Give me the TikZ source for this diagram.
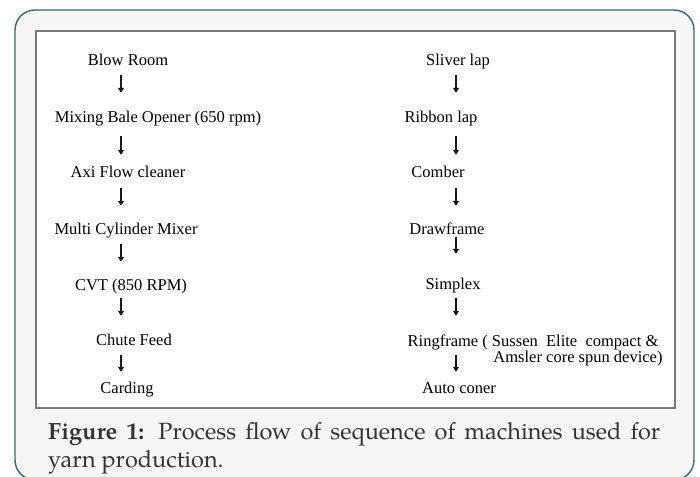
\documentclass[tikz,border=0pt]{standalone}
\usepackage{fontspec}
\setmainfont{Liberation Serif}
\newfontfamily\capfont{texgyrepagella}[Extension=.otf, UprightFont=*-regular, BoldFont=*-bold]
\usetikzlibrary{arrows.meta}
\definecolor{frameteal}{HTML}{2F6B84}
\definecolor{panelbg}{HTML}{F6F6F4}
\definecolor{innerline}{HTML}{7A7A7A}
\definecolor{captext}{HTML}{333333}
\tikzset{
  stepnode/.style={anchor=base, inner sep=0pt, text height=11pt, text depth=3.5pt,
    font=\fontsize{16.5}{19}\selectfont, text=black},
  flowarr/.style={-{Triangle[width=6pt,length=5pt]}, line width=1.3pt, black!90},
  capline/.style={anchor=base west, inner sep=0pt, text=captext,
    font=\capfont\fontsize{23.5}{28}\selectfont}
}
\begin{document}
\begin{tikzpicture}[x=1pt,y=-1pt]
\useasboundingbox (0,0) rectangle (700,476);
\clip (0,0) rectangle (700,476);
\fill[white] (0,0) rectangle (700,476);
\draw[frameteal, line width=1.4pt, fill=panelbg, rounded corners=20pt] (15,10) rectangle (694,480);
\draw[innerline, line width=1.4pt, fill=white] (36,31) rectangle (675,408);
% left column
\node[stepnode] (blow) at (128,66) {Blow Room};
\node[stepnode] (mix) at (158,122) {Mixing Bale Opener (650 rpm)};
\node[stepnode] (axi) at (128,177) {Axi Flow cleaner};
\node[stepnode] (multi) at (126,234) {Multi Cylinder Mixer};
\node[stepnode] (cvt) at (131,290) {CVT (850 RPM)};
\node[stepnode] (chute) at (134,345) {Chute Feed};
\node[stepnode] (card) at (127,393) {Carding};
\coordinate (cl) at (121,0);
\draw[flowarr, shorten <=5.5pt, shorten >=18pt] (blow.south -| cl) -- (mix.north -| cl);
\draw[flowarr, shorten <=10.5pt, shorten >=11pt] (mix.south -| cl) -- (axi.north -| cl);
\draw[flowarr, shorten <=7.5pt, shorten >=17pt] (axi.south -| cl) -- (multi.north -| cl);
\draw[flowarr, shorten <=6.5pt, shorten >=17pt] (multi.south -| cl) -- (cvt.north -| cl);
\draw[flowarr, shorten <=4.5pt, shorten >=18pt] (cvt.south -| cl) -- (chute.north -| cl);
\draw[flowarr, shorten <=6.5pt, shorten >=10pt] (chute.south -| cl) -- (card.north -| cl);
% right column
\node[stepnode] (sliver) at (458,66) {Sliver lap};
\node[stepnode] (ribbon) at (441,122) {Ribbon lap};
\node[stepnode] (comber) at (438,177) {Comber};
\node[stepnode] (draw) at (447,234) {Drawframe};
\node[stepnode] (simplex) at (453,289) {Simplex};
\node[stepnode] (ring) at (533,346) {Ringframe ( Sussen\ \ Elite\ \ compact \&};
\node[stepnode] (ringb) at (578,362) {Amsler core spun device)};
\node[stepnode] (auto) at (459,393) {Auto coner};
\coordinate (cr) at (456,0);
\draw[flowarr, shorten <=5.5pt, shorten >=18pt] (sliver.south -| cr) -- (ribbon.north -| cr);
\draw[flowarr, shorten <=10.5pt, shorten >=11pt] (ribbon.south -| cr) -- (comber.north -| cr);
\draw[flowarr, shorten <=7.5pt, shorten >=17pt] (comber.south -| cr) -- (draw.north -| cr);
\draw[flowarr, shorten <=-0.5pt, shorten >=24pt] (draw.south -| cr) -- (simplex.north -| cr);
\draw[flowarr, shorten <=5.5pt, shorten >=19pt] (simplex.south -| cr) -- (ring.north -| cr);
\draw[flowarr, shorten <=5.5pt, shorten >=10pt] (ring.south -| cr) -- (auto.north -| cr);
% caption
\node[capline] (cap1) at (48,439) {\makebox[612pt][s]{\textbf{Figure 1:} Process flow of sequence of machines used for}};
\node[capline] (cap2) at (48,467) {yarn production.};
\end{tikzpicture}
\end{document}
